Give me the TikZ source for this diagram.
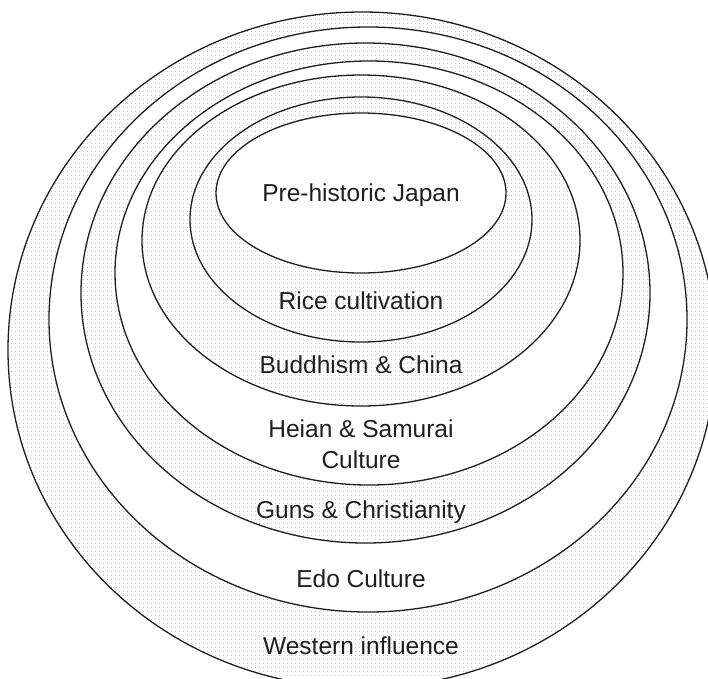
\documentclass[tikz,border=0pt]{standalone}
\usepackage{fontspec}
\setmainfont{Liberation Sans}
\usetikzlibrary{patterns.meta}
\begin{document}
\begin{tikzpicture}[x=1pt,y=-1pt,
  ring/.style={draw=black!88, line width=1.3pt},
  stipple/.style={ring, preaction={fill=white},
    pattern={Dots[distance=4pt,radius=0.55pt]}, pattern color=black!38},
  plain/.style={ring, fill=white},
  label/.style={font=\fontsize{24.5}{30}\selectfont, text=black!88,
    anchor=base, inner sep=0pt}]
\clip (0,0) rectangle (708,678);
\fill[white] (0,0) rectangle (708,678);

% nested eras, outermost first
\path[stipple] (362,350)   ellipse [x radius=354pt,   y radius=338pt];   % Western influence
\path[plain]   (368,319.5) ellipse [x radius=319pt,   y radius=292.5pt]; % Edo
\path[stipple] (365.5,293) ellipse [x radius=284.5pt, y radius=250pt];   % Guns
\path[plain]   (369,273)   ellipse [x radius=254pt,   y radius=212pt];   % Heian
\path[stipple] (361,240.5) ellipse [x radius=219pt,   y radius=165.5pt]; % Buddhism
\path[stipple] (361,219.5) ellipse [x radius=171pt,   y radius=122.5pt]; % Rice
\path[plain]   (361,193)   ellipse [x radius=145pt,   y radius=80pt];    % Pre-historic

% era labels
\node[label] (prehist)  at (361,201) {Pre-historic Japan};
\node[label] (rice)     at (361,309) {Rice cultivation};
\node[label] (buddhism) at (361,373) {Buddhism \& China};
\node[label] (heian)    at (361,437) {Heian \& Samurai};
\node[label] (heianb)   at (361,468) {Culture};
\node[label] (guns)     at (361,518) {Guns \& Christianity};
\node[label] (edo)      at (361,587) {Edo Culture};
\node[label] (western)  at (361,654) {Western influence};
\end{tikzpicture}
\end{document}
